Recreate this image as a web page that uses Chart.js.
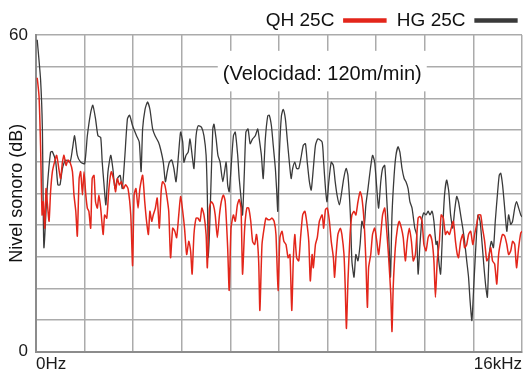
<!DOCTYPE html>
<html>
<head>
<meta charset="utf-8">
<script src="https://cdn.jsdelivr.net/npm/chart.js@4.4.1/dist/chart.umd.min.js"></script>
<style>
  body { margin: 0; background: #fff; }
</style>
</head>
<body>
<canvas id="ruido" width="525" height="378"></canvas>
<script>
// frecuencia en kHz, nivel sonoro en dB
var qhFreq = [0.04,0.10,0.15,0.20,0.24,0.29,0.33,0.37,0.43,0.48,0.54,0.61,0.68,0.75,0.81,0.87,0.92,0.99,1.05,1.12,
  1.20,1.25,1.31,1.36,1.42,1.47,1.53,1.58,1.64,1.69,1.74,1.80,1.85,1.91,1.96,2.02,2.07,2.13,2.21,2.26,
  2.33,2.40,2.48,2.57,2.62,2.68,2.74,2.81,2.88,2.95,3.03,3.12,3.18,3.23,3.29,3.36,3.42,3.51,3.58,3.64,
  3.70,3.75,3.81,3.86,3.93,3.99,4.06,4.12,4.17,4.24,4.30,4.37,4.43,4.50,4.57,4.63,4.70,4.76,4.83,4.89,
  4.96,5.03,5.09,5.14,5.20,5.27,5.33,5.40,5.46,5.53,5.60,5.64,5.71,5.77,5.84,5.90,5.97,6.04,6.10,6.17,
  6.23,6.31,6.36,6.42,6.50,6.56,6.63,6.69,6.75,6.80,6.87,6.94,7.00,7.07,7.13,7.20,7.26,7.33,7.37,7.44,
  7.51,7.57,7.64,7.70,7.77,7.84,7.90,7.97,8.03,8.10,8.16,8.23,8.30,8.36,8.42,8.47,8.52,8.58,8.65,8.71,
  8.78,8.85,8.91,8.98,9.03,9.09,9.13,9.20,9.26,9.33,9.42,9.47,9.53,9.59,9.66,9.72,9.79,9.83,9.88,9.94,
  10.02,10.07,10.14,10.18,10.22,10.27,10.34,10.40,10.47,10.53,10.60,10.67,10.73,10.80,10.86,10.91,10.95,11.02,11.08,11.15,
  11.22,11.28,11.35,11.41,11.48,11.54,11.61,11.68,11.72,11.76,11.83,11.90,11.96,12.03,12.09,12.16,12.22,12.29,12.36,12.42,
  12.49,12.58,12.64,12.71,12.77,12.84,12.91,12.97,13.04,13.10,13.15,13.21,13.28,13.34,13.41,13.48,13.54,13.61,13.67,13.74,
  13.81,13.87,13.91,13.98,14.05,14.11,14.18,14.24,14.31,14.38,14.44,14.51,14.57,14.64,14.70,14.77,14.84,14.90,14.97,15.03,
  15.10,15.17,15.23,15.30,15.36,15.43,15.50,15.56,15.63,15.69,15.76,15.82,15.89,15.96,16.00];
var qhLevel = [51.9,48.4,39.1,25.9,28.4,23.4,30.9,28.4,24.7,30.3,34.1,35.9,37.2,34.7,32.8,35.9,37.2,35.3,36.3,35.9,
  34.1,29.7,26.6,21.9,32.8,34.1,29.7,34.1,29.7,27.2,26.6,23.4,32.8,33.4,28.4,27.2,29.7,27.2,22.2,25.9,
  25.3,30.9,34.1,32.2,30.3,32.8,31.6,32.2,30.9,31.6,30.9,25.9,16.3,29.7,30.9,27.2,30.9,33.4,28.4,24.7,
  22.2,26.6,24.7,25.9,27.2,29.1,23.4,30.3,32.2,31.6,29.7,26.6,17.8,23.4,22.8,21.6,25.9,29.4,26.6,23.4,
  18.4,20.9,19.1,14.7,22.2,25.3,25.3,24.7,27.2,25.9,22.2,15.9,27.2,28.4,27.8,25.9,21.6,25.9,28.4,29.7,
  28.4,19.7,11.6,23.4,25.9,24.7,27.8,28.8,27.2,14.7,23.4,27.2,27.2,24.7,20.9,20.3,22.2,17.2,7.8,20.3,
  23.4,25.3,25.0,25.0,25.3,24.7,22.2,11.6,21.6,22.8,20.9,20.3,17.8,18.4,7.8,17.2,22.2,17.8,17.2,21.6,
  25.9,26.6,24.7,20.9,13.4,18.4,15.9,20.3,21.6,24.7,25.9,23.4,26.9,27.2,24.7,20.9,17.8,14.1,18.4,22.2,
  23.4,22.2,18.4,12.2,4.4,13.4,22.2,25.9,26.6,25.9,28.4,30.3,29.1,24.7,17.2,8.4,15.9,18.4,22.2,23.4,
  20.9,18.4,22.2,25.9,27.2,23.4,17.8,10.9,3.8,12.2,19.7,23.4,24.7,23.4,21.6,17.2,20.9,23.4,20.9,17.2,
  18.4,25.3,25.6,24.7,20.3,19.1,21.6,22.2,20.9,17.2,10.3,17.2,20.9,25.9,25.3,22.2,22.8,22.2,23.4,24.7,
  20.9,18.4,17.8,20.9,22.2,19.7,20.3,22.2,22.8,20.3,22.2,24.1,25.9,25.9,23.4,20.9,17.2,17.8,19.7,17.2,
  16.6,12.8,18.4,20.9,22.2,21.9,20.3,18.4,19.1,20.9,20.3,15.9,19.7,22.5,22.8];

var hgFreq = [0.04,0.15,0.21,0.26,0.37,0.48,0.54,0.65,0.72,0.79,0.87,0.98,1.12,1.20,1.27,1.36,1.47,1.60,1.69,1.80,
  1.87,1.96,2.04,2.13,2.18,2.24,2.30,2.37,2.46,2.53,2.60,2.68,2.77,2.84,2.92,3.01,3.08,3.18,3.31,3.40,
  3.46,3.51,3.59,3.67,3.75,3.84,3.92,4.03,4.10,4.19,4.26,4.32,4.39,4.47,4.54,4.61,4.69,4.76,4.83,4.87,
  4.94,5.01,5.07,5.14,5.20,5.27,5.34,5.45,5.53,5.60,5.64,5.68,5.75,5.82,5.86,5.93,5.99,6.06,6.15,6.26,
  6.31,6.36,6.42,6.50,6.56,6.64,6.69,6.75,6.80,6.86,6.91,6.98,7.05,7.13,7.22,7.30,7.35,7.42,7.48,7.55,
  7.63,7.68,7.75,7.81,7.88,7.92,7.96,8.01,8.08,8.14,8.21,8.27,8.34,8.40,8.45,8.52,8.58,8.65,8.72,8.80,
  8.87,8.93,9.00,9.06,9.13,9.20,9.28,9.42,9.47,9.53,9.58,9.64,9.72,9.79,9.85,9.91,9.99,10.05,10.13,10.21,
  10.27,10.35,10.40,10.47,10.53,10.60,10.67,10.73,10.80,10.86,10.93,11.01,11.08,11.15,11.22,11.28,11.35,11.41,11.48,11.54,
  11.61,11.67,11.72,11.79,11.85,11.92,11.98,12.05,12.12,12.18,12.25,12.31,12.38,12.47,12.53,12.58,12.64,12.71,12.77,12.84,
  12.91,12.97,13.04,13.10,13.17,13.21,13.26,13.32,13.39,13.45,13.52,13.59,13.65,13.72,13.78,13.85,13.91,13.98,14.05,14.11,
  14.18,14.24,14.29,14.35,14.42,14.49,14.55,14.62,14.68,14.75,14.81,14.86,14.92,14.99,15.06,15.12,15.19,15.25,15.30,15.36,
  15.43,15.50,15.56,15.63,15.69,15.76,15.82,15.89,15.96,16.00];
var hgLevel = [59.1,51.6,42.2,19.7,30.9,37.8,37.9,35.9,31.6,31.6,34.7,36.3,35.9,38.4,40.9,37.2,35.9,35.6,40.9,45.3,
  46.7,44.1,40.9,40.6,35.9,31.6,27.8,34.1,37.2,34.7,30.9,32.8,33.4,30.9,36.6,44.1,44.8,42.8,40.9,39.7,
  34.1,42.2,45.9,47.3,45.9,42.2,40.9,39.7,38.4,35.9,32.2,34.1,35.9,36.3,34.7,32.2,37.2,41.6,39.7,35.9,
  37.2,37.8,40.3,37.2,34.7,40.9,42.8,42.5,40.9,37.2,29.7,17.8,29.7,42.2,43.1,40.3,37.2,35.9,32.2,35.9,
  31.6,30.3,34.7,40.9,41.6,37.2,32.8,29.1,25.9,34.1,41.6,42.2,39.4,40.3,40.9,42.2,40.3,37.2,32.8,40.3,
  44.7,44.8,42.8,39.1,34.7,30.9,26.6,37.2,44.7,45.9,44.1,40.3,35.9,32.8,34.7,35.9,34.7,34.7,36.6,39.1,
  39.4,35.9,32.2,30.6,34.7,39.1,40.3,39.7,35.9,30.9,28.4,32.2,35.9,35.3,32.2,29.7,27.8,29.7,32.8,34.7,
  33.4,25.9,17.2,14.1,18.4,17.2,20.3,24.7,23.4,27.8,30.9,34.7,37.2,35.9,30.9,27.2,32.2,34.7,35.3,29.7,
  22.2,14.1,25.9,33.4,37.2,38.8,37.8,34.7,32.8,32.2,30.9,28.4,27.2,23.4,22.2,14.7,20.3,25.3,26.3,25.9,
  26.6,25.9,26.6,24.7,20.3,20.9,17.2,14.7,23.4,29.7,32.5,30.3,25.9,23.4,26.6,29.4,28.4,25.9,23.4,20.9,
  17.2,14.1,9.7,5.9,13.4,20.9,25.9,24.7,20.9,15.9,12.2,10.3,18.4,20.9,19.7,24.7,29.7,33.4,33.8,31.6,
  27.2,22.8,25.9,24.1,24.7,27.2,28.4,27.2,25.9,25.5];

var seriesNames = ["QH 25C", "HG 25C"];
var seriesColors = ["#e3261b", "#3a3a3a"];
var xTickLabels = { 0: "0Hz", 16: "16kHz" };
var yTickLabels = { 0: "0", 60: "60" };
var yTitle = "Nivel sonoro (dB)";
var note = "(Velocidad: 120m/min)";

function toPoints(xs, ys) {
  return xs.map(function (x, i) { return { x: x, y: ys[i] }; });
}

var font = "'Liberation Sans', Arial, sans-serif";

// leyenda con altura fija y recuadro blanco con la velocidad
var layoutFix = {
  id: "layoutFix",
  beforeLayout: function (chart) {
    var lg = chart.legend;
    if (lg && !lg._patched) {
      var fit = lg.fit;
      lg.fit = function () { fit.call(this); this.height = 35; };
      lg._patched = true;
    }
  },
  afterLayout: function (chart) {
    // empuja la leyenda un poco hacia la derecha
    if (chart.legend) {
      chart.legend.left += 4;
      chart.legend.right += 4;
    }
  },
  beforeDatasetsDraw: function (chart) {
    var a = chart.chartArea, c = chart.ctx;
    var w = a.right - a.left, h = a.bottom - a.top;
    var x0 = a.left + w * 0.374, x1 = a.left + w * 0.804;
    var y0 = a.top + h * 0.05, y1 = a.top + h * 0.178;
    c.save();
    c.fillStyle = "#fff";
    c.fillRect(x0, y0, x1 - x0, y1 - y0);
    c.fillStyle = "#111";
    c.font = "20px " + font;
    c.textAlign = "center";
    c.textBaseline = "middle";
    c.fillText(note, (x0 + x1) / 2, a.top + h * 0.125);
    c.restore();
  }
};

var ctx = document.getElementById("ruido").getContext("2d");
var myChart = new Chart(ctx, {
  type: "line",
  data: {
    datasets: [
      {
        label: seriesNames[0],
        data: toPoints(qhFreq, qhLevel),
        borderColor: seriesColors[0],
        backgroundColor: seriesColors[0],
        borderWidth: 1.5,
        pointRadius: 0,
        tension: 0.2,
      },
      {
        label: seriesNames[1],
        data: toPoints(hgFreq, hgLevel),
        borderColor: seriesColors[1],
        backgroundColor: seriesColors[1],
        borderWidth: 1.3,
        pointRadius: 0,
        tension: 0.2,
      },
    ],
  },
  options: {
    responsive: false,
    animation: false,
    layout: { padding: { left: 0, right: 1, top: 0, bottom: 0 } },
    plugins: {
      tooltip: { enabled: false },
      legend: {
        rtl: true,
        reverse: true,
        align: "start",
        labels: {
          color: "#111",
          font: { family: font, size: 19 },
          boxWidth: 42,
          boxHeight: 3,
          padding: 11,
        },
      },
    },
    scales: {
      x: {
        type: "linear",
        min: 0,
        max: 16,
        grid: { color: "#ababab", lineWidth: 1.5, drawTicks: false },
        border: { color: "#8c8c8c", width: 2 },
        ticks: {
          stepSize: 1.6,
          autoSkip: false,
          maxRotation: 0,
          align: "inner",
          padding: 3,
          color: "#1a1a1a",
          font: { family: font, size: 17 },
          callback: function (v) {
            var k = Math.round(v * 10) / 10;
            return xTickLabels[k] !== undefined && Math.abs(v - k) < 1e-6 ? xTickLabels[k] : "";
          },
        },
      },
      y: {
        min: 0,
        max: 60,
        grid: { color: "#ababab", lineWidth: 1.5, drawTicks: false },
        border: { color: "#8c8c8c", width: 2 },
        ticks: {
          stepSize: 6,
          padding: 8,
          color: "#1a1a1a",
          font: { family: font, size: 17 },
          callback: function (v) { return yTickLabels[v] !== undefined ? yTickLabels[v] : ""; },
        },
        title: {
          display: true,
          text: yTitle,
          color: "#111",
          font: { family: font, size: 18 },
          padding: { top: 6, bottom: 0 },
        },
        afterFit: function (scale) { scale.width = 36; },
      },
    },
  },
  plugins: [layoutFix],
});
</script>
</body>
</html>
